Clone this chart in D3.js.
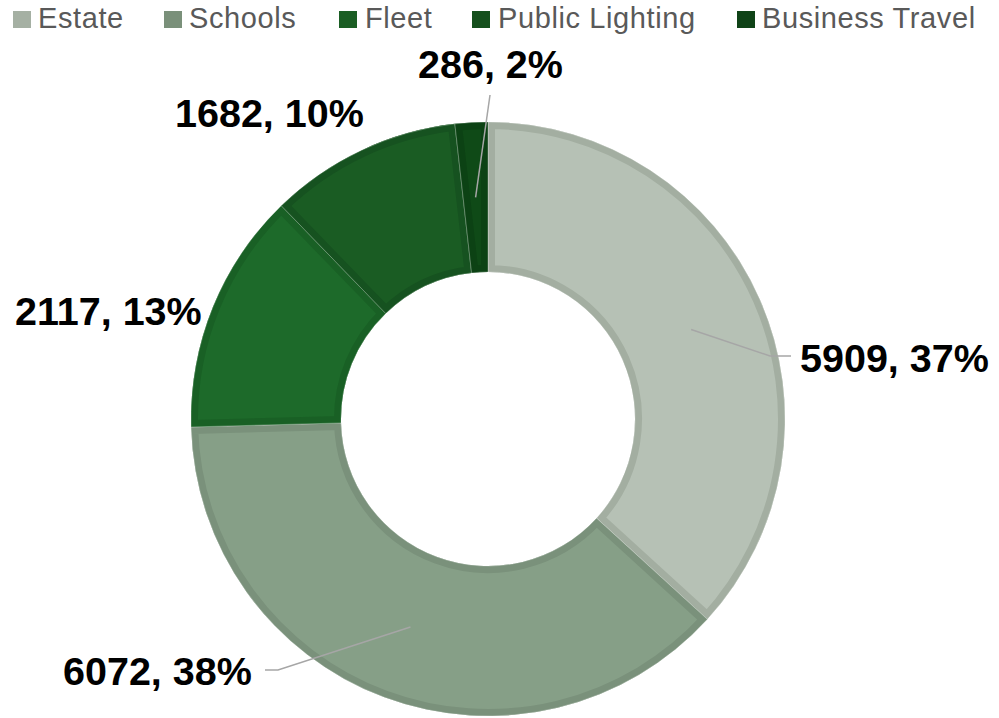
<!DOCTYPE html>
<html>
<head>
<meta charset="utf-8">
<script src="https://cdn.jsdelivr.net/npm/d3@7"></script>
<style>
  html, body { margin: 0; padding: 0; background: #ffffff; }
  svg { display: block; }
</style>
</head>
<body>
<svg id="chart" width="999" height="718"></svg>
<script>
// ---- data ----
const categories = ["Estate", "Schools", "Fleet", "Public Lighting", "Business Travel"];
const values = [5909, 6072, 2117, 1682, 286];
const percentLabels = ["37%", "38%", "13%", "10%", "2%"];

// ---- styles ----
const fillColors   = ["#b6c1b5", "#869f87", "#1d6a2a", "#1a5c23", "#0f4a17"];
const borderColors = ["#a3aea1", "#7a917b", "#196025", "#165220", "#0c4214"];
const legendColors = ["#a5b0a3", "#7a907a", "#1b5e24", "#15501d", "#0f4317"];

// layout
const W = 999, H = 718;
const cx = 488, cy = 419, outerR = 297, innerR = 147;

// label anchor (x, baseline) and optional leader elbow points
const labelLayout = [
  { x: 800, y: 372, leader: [[770, 356], [791, 356]] },
  { x: 63,  y: 685, leader: [[278, 670], [265, 670]] },
  { x: 15,  y: 325, leader: null },
  { x: 175, y: 127, leader: null },
  { x: 418, y: 78,  leader: [[490, 95]] }
];
const legendLayout = [
  { sq: 13, tx: 38 }, { sq: 164, tx: 189 }, { sq: 339, tx: 365 },
  { sq: 472, tx: 498 }, { sq: 737, tx: 762 }
];

const svg = d3.select("#chart");
const defs = svg.append("defs");

const data = categories.map((c, i) => ({ name: c, value: values[i], pct: percentLabels[i], i }));

const pie = d3.pie().value(d => d.value).sort(null).startAngle(0).endAngle(2 * Math.PI);
const arcs = pie(data);
const arc = d3.arc().innerRadius(innerR).outerRadius(outerR);

const g = svg.append("g").attr("transform", `translate(${cx},${cy})`);

arcs.forEach((a, i) => {
  defs.append("clipPath").attr("id", "clip" + i)
    .append("path").attr("d", arc(a));
});

const slices = g.selectAll("g.slice").data(arcs).enter().append("g").attr("class", "slice");
slices.append("path")
  .attr("d", arc)
  .attr("fill", d => fillColors[d.data.i]);
slices.append("path")
  .attr("d", arc)
  .attr("fill", "none")
  .attr("stroke", d => borderColors[d.data.i])
  .attr("stroke-width", 14)
  .attr("clip-path", d => `url(#clip${d.data.i})`);
slices.append("path")
  .attr("d", arc)
  .attr("fill", "none")
  .attr("stroke", "#ffffff")
  .attr("stroke-opacity", 0.35)
  .attr("stroke-width", 0.8);

// leader lines
arcs.forEach((a, i) => {
  const lay = labelLayout[i];
  if (!lay.leader) return;
  const c = arc.centroid(a);
  const pts = [[cx + c[0], cy + c[1]]].concat(lay.leader);
  svg.append("path")
    .attr("d", d3.line()(pts))
    .attr("fill", "none")
    .attr("stroke", "#a6a6a6")
    .attr("stroke-width", 1.5);
});

// data labels
svg.selectAll("text.dlabel").data(data).enter().append("text")
  .attr("class", "dlabel")
  .attr("x", d => labelLayout[d.i].x)
  .attr("y", d => labelLayout[d.i].y)
  .attr("font-family", "'Liberation Sans', Arial, sans-serif")
  .attr("font-weight", "bold")
  .attr("font-size", 39.5)
  .attr("fill", "#000000")
  .text(d => `${d.value}, ${d.pct}`);

// legend
const leg = svg.selectAll("g.legend").data(data).enter().append("g").attr("class", "legend");
leg.append("rect")
  .attr("x", d => legendLayout[d.i].sq)
  .attr("y", 11)
  .attr("width", 18)
  .attr("height", 17)
  .attr("fill", d => legendColors[d.i]);
leg.append("text")
  .attr("x", d => legendLayout[d.i].tx)
  .attr("y", 28)
  .attr("font-family", "'Liberation Sans', Arial, sans-serif")
  .attr("font-size", 29)
  .attr("letter-spacing", 0.6)
  .attr("fill", "#595959")
  .text(d => d.name);
</script>
</body>
</html>
